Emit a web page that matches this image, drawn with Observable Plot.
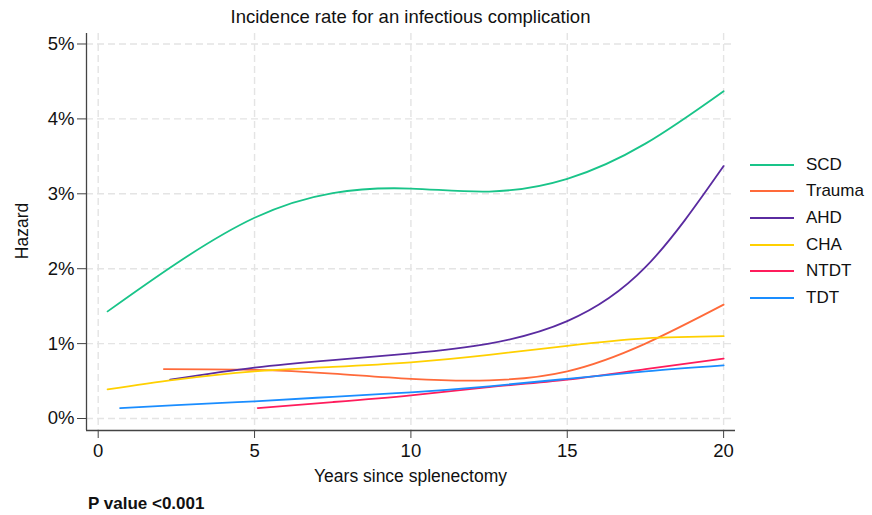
<!DOCTYPE html>
<html>
<head>
<meta charset="utf-8">
<script src="https://cdn.jsdelivr.net/npm/d3@7"></script>
<script src="https://cdn.jsdelivr.net/npm/@observablehq/plot@0.6"></script>
<style>
  html, body { margin: 0; padding: 0; background: #fff; }
  #wrap { position: relative; width: 872px; height: 515px; font-family: "Liberation Sans", Arial, Helvetica, sans-serif; color: #111; }
  #wrap svg { position: absolute; left: 0; top: 0; }
  .abs { position: absolute; white-space: nowrap; }
  #title { left: 0; width: 821px; top: 6px; text-align: center; font-size: 18.5px; }
  #xlabel { left: 0; width: 821px; top: 466px; text-align: center; font-size: 17.5px; }
  #ylabel { left: 22px; top: 231px; font-size: 17.5px; transform: translate(-50%, -50%) rotate(-90deg); }
  #caption { left: 88px; top: 494px; font-size: 17px; font-weight: bold; }
  #legend { left: 750px; top: 151.5px; }
  .row { display: flex; align-items: center; height: 26.6px; font-size: 17px; }
  .sw { width: 44px; height: 2px; margin-right: 12px; }
</style>
</head>
<body>
<div id="wrap">
  <div id="chart"></div>
  <div class="abs" id="title">Incidence rate for an infectious complication</div>
  <div class="abs" id="xlabel">Years since splenectomy</div>
  <div class="abs" id="ylabel">Hazard</div>
  <div class="abs" id="caption">P value &lt;0.001</div>
  <div class="abs" id="legend"></div>
</div>
<script>
const seriesNames = ["SCD", "Trauma", "AHD", "CHA", "NTDT", "TDT"];
const seriesColors = ["#19c489", "#ff6a3a", "#5a2ba0", "#ffd000", "#ff1c5c", "#1a8dff"];

const scdYears   = [0.3, 2.5, 5, 7.5, 10, 12.5, 15, 17.5, 20];
const scdHazard  = [1.43, 2.07, 2.68, 3.01, 3.07, 3.03, 3.20, 3.67, 4.37];
const traumaYears  = [2.1, 5, 7.5, 10, 12.5, 15, 17.5, 20];
const traumaHazard = [0.66, 0.65, 0.60, 0.53, 0.51, 0.63, 1.0, 1.52];
const ahdYears   = [2.3, 5, 7.5, 10, 12.5, 15, 17.5, 20];
const ahdHazard  = [0.52, 0.68, 0.78, 0.87, 1.0, 1.30, 2.02, 3.37];
const chaYears   = [0.3, 2.5, 5, 7.5, 10, 12.5, 15, 17.5, 20];
const chaHazard  = [0.39, 0.52, 0.63, 0.69, 0.75, 0.85, 0.97, 1.07, 1.10];
const ntdtYears  = [5.1, 7.5, 10, 12.5, 15, 17.5, 20];
const ntdtHazard = [0.14, 0.22, 0.31, 0.42, 0.52, 0.66, 0.80];
const tdtYears   = [0.7, 2.5, 5, 7.5, 10, 12.5, 15, 17.5, 20];
const tdtHazard  = [0.14, 0.18, 0.23, 0.29, 0.35, 0.43, 0.53, 0.63, 0.71];

const xTicks = [0, 5, 10, 15, 20];
const yTicks = [0, 1, 2, 3, 4, 5];

const seriesYears = [scdYears, traumaYears, ahdYears, chaYears, ntdtYears, tdtYears];
const seriesHazard = [scdHazard, traumaHazard, ahdHazard, chaHazard, ntdtHazard, tdtHazard];

const rows = [];
seriesNames.forEach((name, i) => {
  seriesYears[i].forEach((yr, j) => rows.push({series: name, year: yr, hazard: seriesHazard[i][j]}));
});

const xDomain = [-0.374, 20.38];
const yDomain = [-0.16, 5.14];

const plot = Plot.plot({
  width: 872,
  height: 515,
  marginLeft: 86,
  marginRight: 137,
  marginTop: 33,
  marginBottom: 85,
  style: {fontFamily: "'Liberation Sans', Arial, Helvetica, sans-serif", background: "transparent"},
  x: {domain: xDomain},
  y: {domain: yDomain},
  color: {domain: seriesNames, range: seriesColors},
  marks: [
    Plot.gridX(xTicks, {stroke: "#e4e4e4", strokeOpacity: 1, strokeWidth: 1.4, strokeDasharray: "7,4"}),
    Plot.gridY(yTicks, {stroke: "#e4e4e4", strokeOpacity: 1, strokeWidth: 1.4, strokeDasharray: "7,4"}),
    Plot.line(rows, {x: "year", y: "hazard", z: "series", stroke: "series", strokeWidth: 1.8, curve: "natural"}),
    Plot.ruleX([xDomain[0]], {stroke: "#444", strokeWidth: 1.3}),
    Plot.ruleY([yDomain[0]], {stroke: "#444", strokeWidth: 1.3}),
    Plot.axisY(yTicks, {tickFormat: d => d + "%", tickSize: 9, tickPadding: 3, fontSize: 18.5, stroke: "#444", color: "#111", label: null}),
    Plot.axisX(xTicks, {tickFormat: d => String(d), tickSize: 8, tickPadding: 5, fontSize: 18.5, stroke: "#444", color: "#111", label: null})
  ]
});
document.getElementById("chart").appendChild(plot);

const legend = document.getElementById("legend");
seriesNames.forEach((name, i) => {
  const row = document.createElement("div");
  row.className = "row";
  const sw = document.createElement("div");
  sw.className = "sw";
  sw.style.background = seriesColors[i];
  const t = document.createElement("span");
  t.textContent = name;
  row.appendChild(sw);
  row.appendChild(t);
  legend.appendChild(row);
});
</script>
</body>
</html>
